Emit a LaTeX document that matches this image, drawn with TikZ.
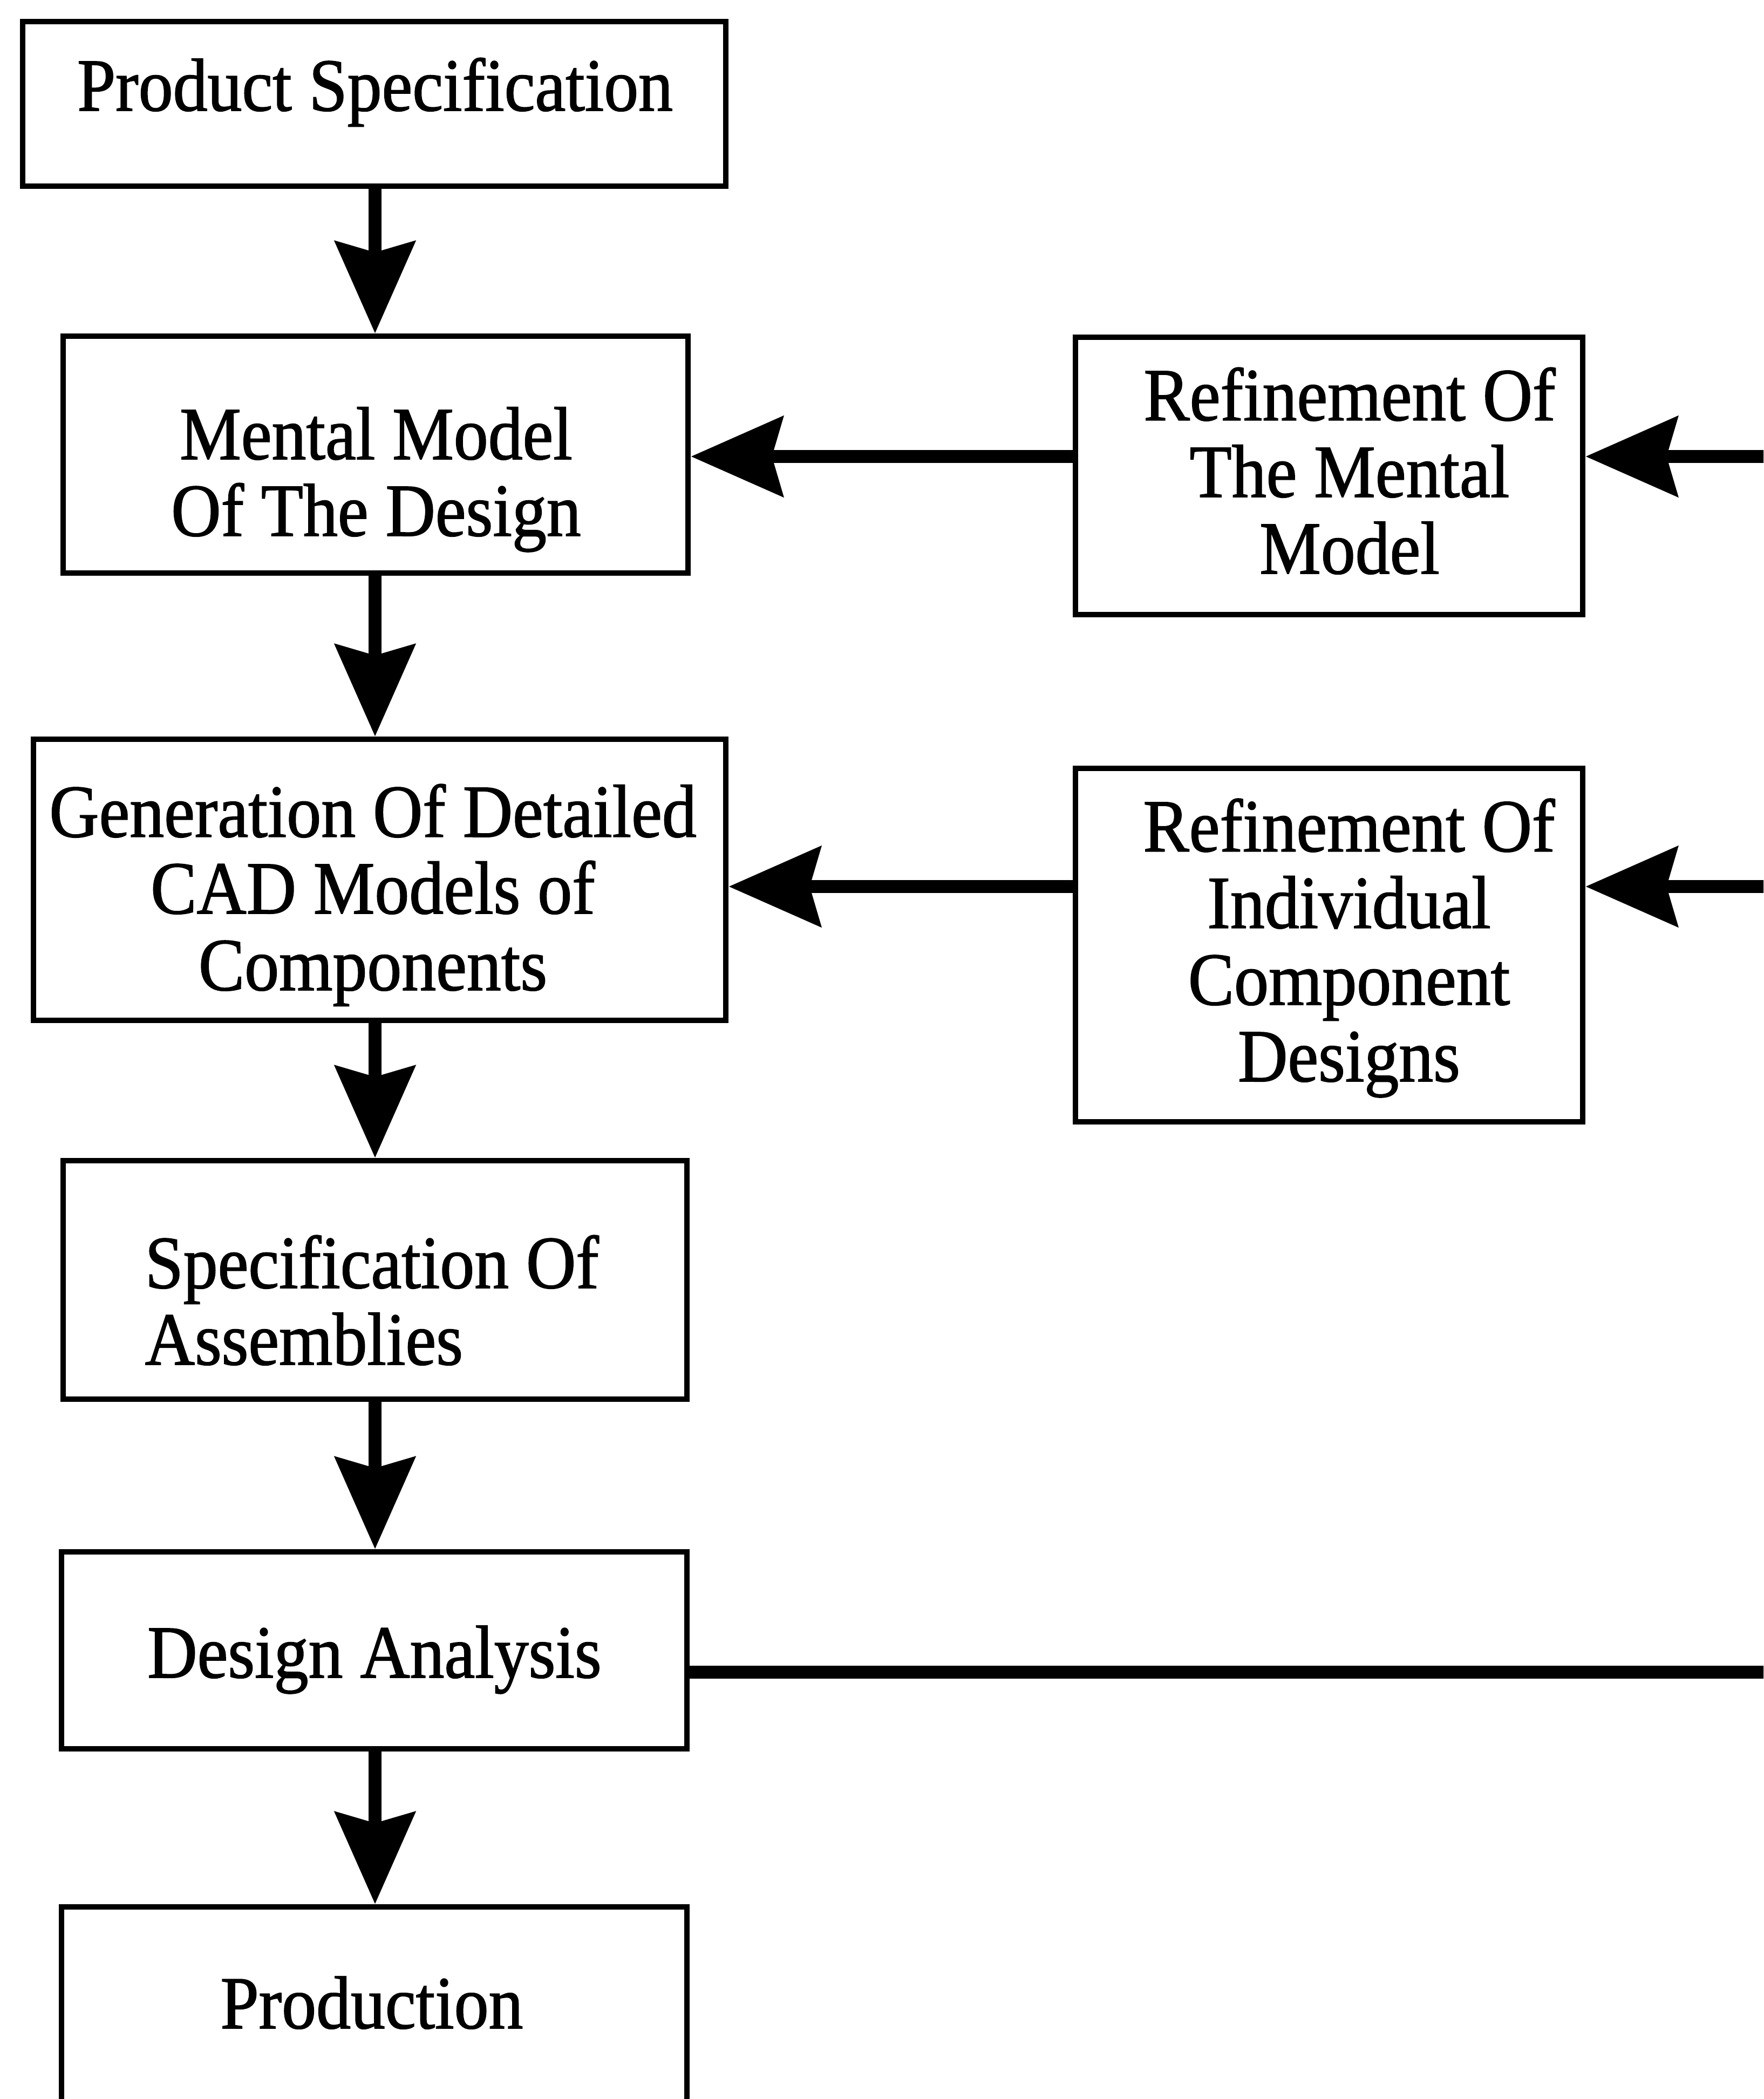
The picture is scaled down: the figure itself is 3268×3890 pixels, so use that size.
\documentclass[tikz,border=0pt]{standalone}
\usepackage{fontspec}
\setmainfont{Liberation Serif}[FakeStretch=0.92,FakeBold=1.2]
\usetikzlibrary{arrows.meta}
\begin{document}
\begin{tikzpicture}[x=0.01cm,y=-0.01cm,
  box/.style={draw, line width=0.1cm, rectangle, inner sep=0pt},
  lbl/.style={font=\fontsize{39.5}{40.4}\selectfont, inner sep=0pt, align=center, anchor=base},
  flow/.style={line width=0.24cm, -{Stealth[length=1.7cm,width=1.47cm,inset=0.2cm]}},
  feed/.style={line width=0.24cm}]
\clip (0,0) rectangle (3268,3890);
\fill[white] (0,0) rectangle (3268,3890);

% main column of process steps
\node[box, minimum width=13.03cm, minimum height=3.05cm] (b1) at (693.5,192.5) {};
\node[box, minimum width=11.58cm, minimum height=4.39cm] (b2) at (696,842.5) {};
\node[box, minimum width=12.83cm, minimum height=5.21cm] (b3) at (703.5,1630.5) {};
\node[box, minimum width=11.56cm, minimum height=4.42cm] (b4) at (695,2372) {};
\node[box, minimum width=11.59cm, minimum height=3.65cm] (b5) at (693.5,3058.5) {};
\node[box, minimum width=11.59cm, minimum height=5.00cm] (b6) at (693.5,3784) {};

% refinement steps
\node[box, minimum width=9.40cm, minimum height=5.14cm] (r1) at (2463,882) {};
\node[box, minimum width=9.40cm, minimum height=6.55cm] (r2) at (2463,1751.5) {};

% labels (multi-line labels sit on the baseline of their last line)
\node[lbl] (t1) at (695,205) {Product Specification};
\node[lbl] (t2) at (697,993) {Mental Model\\Of The Design};
\node[lbl] (t3) at (691,1835) {Generation Of Detailed\\CAD Models of\\Components};
\node[lbl, align=left, anchor=base west] (t4) at (268,2529) {Specification Of\\Assemblies};
\node[lbl] (t5) at (694,3109) {Design Analysis};
\node[lbl] (t6) at (689,3759) {Production};
\node[lbl] (t7) at (2501,1063) {Refinement Of\\The Mental\\Model};
\node[lbl] (t8) at (2500,2004) {Refinement Of\\Individual\\Component\\Designs};

% connector end points beyond the right edge
\coordinate (e1) at (3300,846);
\coordinate (e2) at (3300,1643);
\coordinate (e3) at (3300,3099);
\coordinate (x0) at (695,0);

% downward flow
\draw[flow] (b1.south -| x0) -- (b2.north -| x0);
\draw[flow] (b2.south -| x0) -- (b3.north -| x0);
\draw[flow] (b3.south -| x0) -- (b4.north -| x0);
\draw[flow] (b4.south -| x0) -- (b5.north -| x0);
\draw[flow] (b5.south -| x0) -- (b6.north -| x0);

% refinement loops
\draw[flow] (e1) -- (r1.east |- e1);
\draw[flow] (r1.west |- e1) -- (b2.east |- e1);
\draw[flow] (e2) -- (r2.east |- e2);
\draw[flow] (r2.west |- e2) -- (b3.east |- e2);
\draw[feed] (b5.east |- e3) -- (e3);
\end{tikzpicture}
\end{document}
